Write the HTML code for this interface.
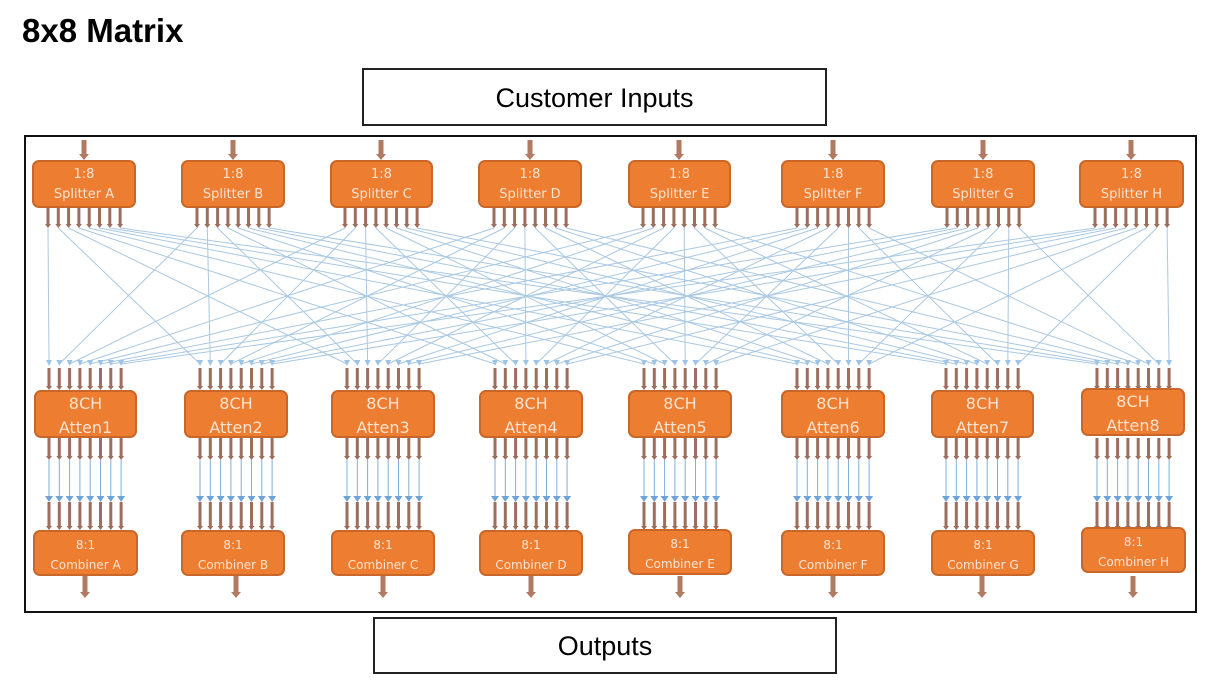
<!DOCTYPE html>
<html><head><meta charset="utf-8"><style>
body{margin:0;width:1207px;height:684px;background:#fff;position:relative;overflow:hidden;font-family:"Liberation Sans",sans-serif}
.t{position:absolute;left:22px;top:12px;font-weight:bold;font-size:33px;color:#000}
.bx{position:absolute;border:2px solid #222;background:#fff;font-size:27px;text-align:center;box-sizing:border-box}
.frame{position:absolute;left:24px;top:135px;width:1173px;height:478px;border:2px solid #111;box-sizing:border-box}
.o{position:absolute;background:#ED7D31;border:2px solid #C9662A;border-radius:7px;box-sizing:border-box;color:#FBE3D0;text-align:center;font-family:"DejaVu Sans","Liberation Sans",sans-serif}
.s{font-size:13px;line-height:20px;padding-top:3px}
.a{font-size:16px;line-height:24px}
.c{font-size:12px;line-height:20px;padding-top:3px}
svg{position:absolute;left:0;top:0}
</style></head><body>
<div class="t">8x8 Matrix</div>
<div class="bx" style="left:362px;top:68px;width:465px;height:58px;line-height:56px">Customer Inputs</div>
<div class="bx" style="left:373px;top:617px;width:464px;height:57px;line-height:55px">Outputs</div>
<div class="frame"></div>
<svg id="g" width="1207" height="684"></svg>
<div id="boxes">
<div class="o s" style="left:32px;top:160px;width:104px;height:48px">1:8<br>Splitter A</div>
<div class="o s" style="left:181px;top:160px;width:104px;height:48px">1:8<br>Splitter B</div>
<div class="o s" style="left:330px;top:160px;width:103px;height:48px">1:8<br>Splitter C</div>
<div class="o s" style="left:478px;top:160px;width:104px;height:48px">1:8<br>Splitter D</div>
<div class="o s" style="left:628px;top:160px;width:103px;height:48px">1:8<br>Splitter E</div>
<div class="o s" style="left:781px;top:160px;width:104px;height:48px">1:8<br>Splitter F</div>
<div class="o s" style="left:931px;top:160px;width:104px;height:48px">1:8<br>Splitter G</div>
<div class="o s" style="left:1079px;top:160px;width:105px;height:48px">1:8<br>Splitter H</div>
<div class="o a" style="left:34px;top:390px;width:103px;height:48px">8CH<br>Atten1</div>
<div class="o a" style="left:184px;top:390px;width:104px;height:48px">8CH<br>Atten2</div>
<div class="o a" style="left:331px;top:390px;width:104px;height:48px">8CH<br>Atten3</div>
<div class="o a" style="left:479px;top:390px;width:104px;height:48px">8CH<br>Atten4</div>
<div class="o a" style="left:628px;top:390px;width:104px;height:48px">8CH<br>Atten5</div>
<div class="o a" style="left:781px;top:390px;width:104px;height:48px">8CH<br>Atten6</div>
<div class="o a" style="left:931px;top:390px;width:103px;height:48px">8CH<br>Atten7</div>
<div class="o a" style="left:1081px;top:388px;width:104px;height:48px">8CH<br>Atten8</div>
<div class="o c" style="left:33px;top:530px;width:105px;height:46px">8:1<br>Combiner A</div>
<div class="o c" style="left:181px;top:530px;width:104px;height:46px">8:1<br>Combiner B</div>
<div class="o c" style="left:331px;top:530px;width:104px;height:46px">8:1<br>Combiner C</div>
<div class="o c" style="left:479px;top:530px;width:104px;height:46px">8:1<br>Combiner D</div>
<div class="o c" style="left:628px;top:529px;width:104px;height:46px">8:1<br>Combiner E</div>
<div class="o c" style="left:781px;top:530px;width:104px;height:46px">8:1<br>Combiner F</div>
<div class="o c" style="left:931px;top:530px;width:104px;height:46px">8:1<br>Combiner G</div>
<div class="o c" style="left:1081px;top:527px;width:105px;height:46px">8:1<br>Combiner H</div>
</div>
<script>
var sx=[84,233,381,530,679,833,983,1131], ax=[85,236,383,531,680,833,982,1133];
var s='';
function brown(x,y1,y2){s+='<line x1="'+x+'" y1="'+y1+'" x2="'+x+'" y2="'+(y2-3)+'" stroke="#9C6E5E" stroke-width="3"/><polygon points="'+(x-3)+','+(y2-4)+' '+(x+3)+','+(y2-4)+' '+x+','+y2+'" fill="#9C6E5E"/>';}
function big(x,y1,y2){s+='<line x1="'+x+'" y1="'+y1+'" x2="'+x+'" y2="'+(y2-5)+'" stroke="#B07A63" stroke-width="5"/><polygon points="'+(x-5)+','+(y2-6)+' '+(x+5)+','+(y2-6)+' '+x+','+y2+'" fill="#B07A63"/>';}
function off(j){return -36+j*10.3;}
for(var i=0;i<8;i++)for(var j=0;j<8;j++){
 var x1=sx[i]+off(j), x2=ax[j]+off(i);
 s+='<line x1="'+x1+'" y1="228" x2="'+x2+'" y2="364" stroke="#A9C8E2" stroke-width="1"/>';
 s+='<polygon points="'+(x2-3)+',360 '+(x2+3)+',360 '+x2+',366" fill="#9DC3E6"/>';
}
for(var i=0;i<8;i++){
 big(sx[i],140,160); big(ax[i],576,598);
 for(var j=0;j<8;j++){
  var xs=sx[i]+off(j), xa=ax[i]+off(j);
  brown(xs,208,228);
  brown(xa,368,390);
  brown(xa,438,460);
  s+='<line x1="'+xa+'" y1="460" x2="'+xa+'" y2="498" stroke="#7FAEDC" stroke-width="1"/><polygon points="'+(xa-4)+',496 '+(xa+4)+',496 '+xa+',502" fill="#6FA3D8"/>';
  brown(xa,502,530);
 }
}
document.getElementById('g').innerHTML=s;
</script>
</body></html>
